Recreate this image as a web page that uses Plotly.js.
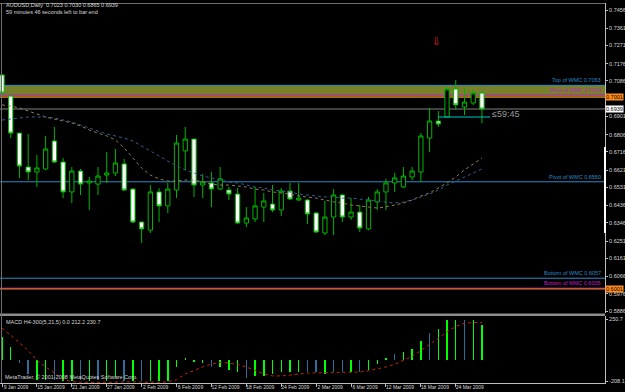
<!DOCTYPE html>
<html><head><meta charset="utf-8">
<script src="https://cdn.plot.ly/plotly-3.0.1.min.js"></script>
<style>html,body{margin:0;padding:0;background:#000;}#chart{width:625px;height:392px;}</style>
</head><body><div id="chart"></div>
<script>
const dates = ['2009-01-09','2009-01-12','2009-01-13','2009-01-14','2009-01-15','2009-01-16','2009-01-19','2009-01-20','2009-01-21','2009-01-22','2009-01-23','2009-01-26','2009-01-27','2009-01-28','2009-01-29','2009-01-30','2009-02-02','2009-02-03','2009-02-04','2009-02-05','2009-02-06','2009-02-09','2009-02-10','2009-02-11','2009-02-12','2009-02-13','2009-02-16','2009-02-17','2009-02-18','2009-02-19','2009-02-20','2009-02-23','2009-02-24','2009-02-25','2009-02-26','2009-02-27','2009-03-02','2009-03-03','2009-03-04','2009-03-05','2009-03-06','2009-03-09','2009-03-10','2009-03-11','2009-03-12','2009-03-13','2009-03-16','2009-03-17','2009-03-18','2009-03-19','2009-03-20','2009-03-23','2009-03-24','2009-03-25','2009-03-26','2009-03-27'];
const open  = [0.7117,0.7007,0.6814,0.6637,0.6611,0.6627,0.6773,0.6663,0.6507,0.6616,0.6554,0.6548,0.6595,0.6606,0.6653,0.6522,0.6350,0.6308,0.6507,0.6434,0.6517,0.6721,0.6783,0.6543,0.6554,0.6522,0.6517,0.6496,0.6345,0.6366,0.6428,0.6444,0.6413,0.6512,0.6465,0.6465,0.6397,0.6293,0.6376,0.6491,0.6376,0.6402,0.6314,0.6455,0.6507,0.6554,0.6533,0.6585,0.6611,0.6788,0.6877,0.6898,0.7044,0.6950,0.6971,0.7023];
const high  = [0.7122,0.7013,0.6814,0.6809,0.6700,0.6799,0.6846,0.6684,0.6637,0.6627,0.6585,0.6637,0.6715,0.6731,0.6679,0.6527,0.6350,0.6543,0.6527,0.6554,0.6804,0.6846,0.6783,0.6601,0.6611,0.6637,0.6533,0.6528,0.6428,0.6533,0.6502,0.6543,0.6528,0.6554,0.6554,0.6470,0.6402,0.6460,0.6522,0.6496,0.6475,0.6439,0.6481,0.6522,0.6575,0.6606,0.6637,0.6637,0.6814,0.6945,0.6929,0.7054,0.7091,0.7049,0.7039,0.7030];
const low   = [0.7013,0.6788,0.6580,0.6569,0.6533,0.6621,0.6658,0.6475,0.6449,0.6491,0.6413,0.6491,0.6554,0.6590,0.6512,0.6345,0.6241,0.6293,0.6350,0.6397,0.6475,0.6621,0.6481,0.6475,0.6428,0.6517,0.6465,0.6340,0.6324,0.6350,0.6350,0.6402,0.6382,0.6465,0.6460,0.6340,0.6293,0.6282,0.6282,0.6350,0.6361,0.6298,0.6308,0.6413,0.6413,0.6507,0.6528,0.6569,0.6559,0.6715,0.6846,0.6898,0.6934,0.6908,0.6960,0.6865];
const close = [0.7023,0.6814,0.6642,0.6611,0.6632,0.6731,0.6663,0.6507,0.6616,0.6548,0.6564,0.6590,0.6606,0.6658,0.6517,0.6350,0.6314,0.6507,0.6434,0.6522,0.6762,0.6783,0.6543,0.6559,0.6522,0.6575,0.6496,0.6345,0.6371,0.6434,0.6460,0.6413,0.6512,0.6470,0.6475,0.6392,0.6298,0.6376,0.6491,0.6376,0.6402,0.6319,0.6465,0.6507,0.6554,0.6580,0.6590,0.6616,0.6799,0.6877,0.6861,0.7044,0.6961,0.6976,0.7023,0.6939];
const maSlow = [0.6961,0.6955,0.6945,0.6929,0.6914,0.6898,0.6887,0.6877,0.6867,0.6851,0.6830,0.6814,0.6799,0.6778,0.6736,0.6684,0.6632,0.6595,0.6575,0.6564,0.6564,0.6569,0.6569,0.6559,0.6548,0.6543,0.6543,0.6538,0.6533,0.6522,0.6517,0.6507,0.6502,0.6496,0.6486,0.6481,0.6475,0.6465,0.6455,0.6449,0.6439,0.6434,0.6429,0.6423,0.6429,0.6439,0.6449,0.6465,0.6486,0.6502,0.6528,0.6554,0.6585,0.6622,0.6653,0.6684];
const maFast = [0.6882,0.6887,0.6893,0.6898,0.6898,0.6898,0.6893,0.6882,0.6872,0.6856,0.6841,0.6825,0.6809,0.6799,0.6788,0.6773,0.6747,0.6721,0.6695,0.6668,0.6642,0.6622,0.6606,0.6590,0.6580,0.6569,0.6559,0.6554,0.6543,0.6533,0.6528,0.6517,0.6512,0.6507,0.6496,0.6491,0.6486,0.6481,0.6481,0.6475,0.6475,0.6470,0.6465,0.6460,0.6455,0.6449,0.6455,0.6465,0.6481,0.6496,0.6517,0.6543,0.6564,0.6585,0.6606,0.6627];
const macdHist = [143,84,-19,-84,-120,-120,-120,-127,-127,-124,-127,-124,-127,-103,-127,-127,-127,-127,-127,-127,-41,12,-12,-19,-41,-41,-60,-72,-108,-96,-96,-84,-72,-72,-72,-72,-72,-84,-72,-72,-72,-72,-60,-24,12,36,48,67,120,167,191,246,246,246,246,215];
const macdTone = ['g','g','b','b','g','g','b','g','g','b','g','b','g','g','b','g','b','g','g','g','g','g','g','g','b','g','g','g','b','g','g','g','g','g','g','b','b','g','b','b','g','b','g','g','g','b','g','g','g','b','g','g','g','b','g','g'];
const macdSignal = [198,155,108,60,0,-41,-79,-115,-132,-136,-136,-136,-134,-132,-130,-132,-134,-136,-135,-132,-120,-84,-60,-41,-24,-12,-17,-26,-41,-65,-84,-96,-96,-91,-84,-79,-77,-74,-74,-74,-74,-72,-65,-55,-41,-24,0,24,60,96,136,175,208,227,232,232];
const xTickDates = ['2009-01-09','2009-01-15','2009-01-21','2009-01-27','2009-02-02','2009-02-06','2009-02-12','2009-02-18','2009-02-24','2009-03-02','2009-03-06','2009-03-12','2009-03-18','2009-03-24'];
const xTickText = ['9 Jan 2009','15 Jan 2009','21 Jan 2009','27 Jan 2009','2 Feb 2009','6 Feb 2009','12 Feb 2009','18 Feb 2009','24 Feb 2009','2 Mar 2009','6 Mar 2009','12 Mar 2009','18 Mar 2009','24 Mar 2009'];
const priceTicks = [0.7456,0.7361,0.7271,0.7176,0.7086,0.6901,0.6806,0.6716,0.6621,0.6531,0.6436,0.6346,0.6251,0.6161,0.6066,0.5976,0.5886];
const levelText = ['Top of WMC 0.7063','Pivot of MMC 0.7013','Pivot of WMC 0.6560','Bottom of WMC 0.6057','Bottom of MMC 0.6005'];
const levelValue = [0.7063,0.7013,0.6560,0.6057,0.6005];
const levelColor = ['#2a8cc8','#c020c0','#2a8cc8','#2a8cc8','#c020c0'];
const alertValue = [0.7001,0.6001];
const bidValue = 0.6939;
const zoneTop = 0.7063, zoneBottom = 0.7003;

const PW = 605, PT = 3, PB = 383;
const px = v => v / PW;
const py = v => (PB - v) / (PB - PT);

const green = '#00b400';
const traces = [
  {type:'scatter', x:dates, y:maSlow, mode:'lines', line:{color:'#8f7f55', width:1, dash:'dot'}, hoverinfo:'skip'},
  {type:'scatter', x:dates, y:maFast, mode:'lines', line:{color:'#2f5f93', width:1, dash:'dot'}, hoverinfo:'skip'},
  {type:'candlestick', x:dates, open:open, high:high, low:low, close:close, whiskerwidth:0,
   increasing:{line:{color:green, width:1}, fillcolor:'#000000'},
   decreasing:{line:{color:green, width:1}, fillcolor:'#ffffff'}},
  {type:'bar', x:dates, y:macdHist, yaxis:'y2', width:0.16,
   marker:{color:macdTone.map(t => t === 'g' ? '#00ff00' : '#2a6f9a'), line:{width:0}}},
  {type:'scatter', x:dates, y:macdSignal, yaxis:'y2', mode:'lines', line:{color:'#c02800', width:1, dash:'dot'}}
];

const shapes = [];
shapes.push({type:'rect', xref:'paper', x0:0, x1:1, yref:'y', y0:zoneBottom, y1:zoneTop, fillcolor:'#77802a', line:{width:0}, layer:'below'});
levelValue.forEach((v,i) => shapes.push({type:'line', xref:'paper', x0:0, x1:1, yref:'y', y0:v, y1:v, line:{color:levelColor[i], width:1}, layer:'below'}));
alertValue.forEach(v => shapes.push({type:'line', xref:'paper', x0:0, x1:1, yref:'y', y0:v, y1:v, line:{color:'#ff8c1a', width:1}, layer:'below'}));
shapes.push({type:'line', xref:'paper', x0:0, x1:1, yref:'y', y0:bidValue, y1:bidValue, line:{color:'#404040', width:2}, layer:'below'});
shapes.push({type:'line', xref:'paper', x0:px(438), x1:px(490), yref:'paper', y0:py(117), y1:py(117), line:{color:'#00c8c8', width:1}});
shapes.push({type:'rect', xref:'paper', x0:0, x1:1, yref:'paper', y0:py(316), y1:py(313.5), fillcolor:'#8c8c8c', line:{width:0}});
shapes.push({type:'line', xref:'paper', x0:px(1.5), x1:px(1.5), yref:'paper', y0:0, y1:1, line:{color:'#6e6e6e', width:1}});
shapes.push({type:'line', xref:'paper', x0:0, x1:1, yref:'paper', y0:py(3.5), y1:py(3.5), line:{color:'#6e6e6e', width:1}});
shapes.push({type:'line', xref:'paper', x0:1, x1:1, yref:'paper', y0:py(147), y1:py(233), line:{color:'#ffffff', width:2}});

const lblFont = {family:'Liberation Sans, Arial, sans-serif', size:5.5, color:'#d8d8d8'};
const annotations = [
  {xref:'paper', yref:'paper', x:px(4), y:py(5.5), xanchor:'left', yanchor:'middle', showarrow:false, text:'AUDUSD,Daily  0.7023 0.7030 0.6865 0.6939', font:lblFont},
  {xref:'paper', yref:'paper', x:px(4), y:py(11.5), xanchor:'left', yanchor:'middle', showarrow:false, text:'59 minutes 46 seconds left to bar end', font:lblFont},
  {xref:'paper', yref:'paper', x:px(4), y:py(322), xanchor:'left', yanchor:'middle', showarrow:false, text:'MACD H4-300(5,21,5) 0.0 212.2 230.7', font:lblFont},
  {xref:'paper', yref:'paper', x:px(3), y:py(377), xanchor:'left', yanchor:'middle', showarrow:false, text:'MetaTrader, © 2001-2008 MetaQuotes Software Corp.', font:lblFont},
  {xref:'paper', yref:'paper', x:px(490), y:py(114), xanchor:'left', yanchor:'middle', showarrow:false, text:'≤59:45', font:{family:'Liberation Sans, Arial, sans-serif', size:9, color:'#9a9a9a'}},
  {xref:'paper', yref:'paper', x:px(436), y:py(42), xanchor:'center', yanchor:'middle', showarrow:false, text:'⇩', font:{family:'DejaVu Sans', size:10, color:'#e02020'}},
  {xref:'paper', yref:'y', x:1, y:alertValue[0], xanchor:'left', yanchor:'middle', showarrow:false, text:'0.7001', bgcolor:'#ff8c1a', borderpad:0, font:{family:'Liberation Sans, Arial', size:5.5, color:'#000'}},
  {xref:'paper', yref:'y', x:1, y:bidValue, xanchor:'left', yanchor:'middle', showarrow:false, text:'0.6939', bgcolor:'#ffffff', borderpad:0, font:{family:'Liberation Sans, Arial', size:5.5, color:'#000'}},
  {xref:'paper', yref:'y', x:1, y:alertValue[1], xanchor:'left', yanchor:'middle', showarrow:false, text:'0.6001', bgcolor:'#ff8c1a', borderpad:0, font:{family:'Liberation Sans, Arial', size:5.5, color:'#000'}}
];
levelValue.forEach((v,i) => annotations.push({xref:'paper', yref:'y', x:px(603), y:v, xanchor:'right', yanchor:'bottom', showarrow:false, text:levelText[i], font:{family:'Liberation Sans, Arial', size:5.5, color:levelColor[i]}}));

const layout = {
  width:625, height:392,
  margin:{l:0, r:20, t:3, b:9},
  paper_bgcolor:'#000000', plot_bgcolor:'#000000',
  showlegend:false, bargap:0,
  xaxis:{type:'category', anchor:'y2', range:[-0.23, 69.1], rangeslider:{visible:false},
    tickvals:xTickDates, ticktext:xTickText, ticks:'outside', ticklen:3, tickcolor:'#bdbdbd',
    showline:true, linecolor:'#bdbdbd', linewidth:1, showgrid:false, zeroline:false,
    tickfont:{family:'Liberation Sans, Arial', size:5, color:'#d8d8d8'}, ticklabelshift:14, ticklabelstandoff:-4},
  yaxis:{domain:[0.1842,1], range:[0.58756,0.74925], side:'right', tickvals:priceTicks, ticktext:priceTicks.map(v=>v.toFixed(4)),
    ticks:'outside', ticklen:2, tickcolor:'#bdbdbd', showline:true, linecolor:'#bdbdbd', showgrid:false, zeroline:false,
    tickfont:{family:'Liberation Sans, Arial', size:5.5, color:'#d8d8d8'}},
  yaxis2:{domain:[0,0.1763], range:[-139.6,272], side:'right', tickvals:[250.7,-130], ticktext:['250.7','-208.1'],
    ticks:'outside', ticklen:2, tickcolor:'#bdbdbd', showline:true, linecolor:'#bdbdbd', showgrid:false, zeroline:false,
    tickfont:{family:'Liberation Sans, Arial', size:5.5, color:'#d8d8d8'}},
  shapes:shapes, annotations:annotations
};
Plotly.newPlot('chart', traces, layout, {staticPlot:true, displayModeBar:false});
</script></body></html>
